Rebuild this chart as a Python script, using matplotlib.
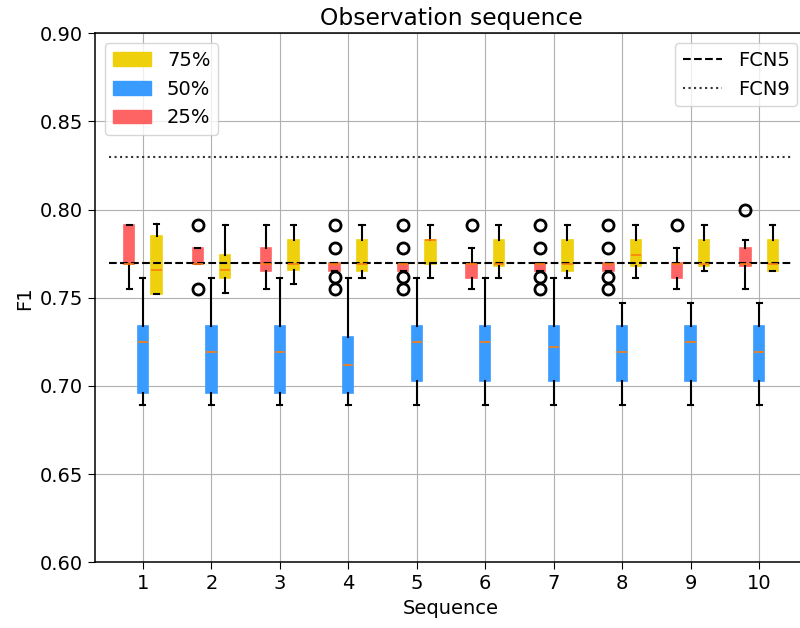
import numpy as np
import matplotlib.pyplot as plt
from matplotlib.patches import Patch
from matplotlib.lines import Line2D

# Secuencias
secuencias = [1, 2, 3, 4, 5, 6, 7, 8, 9, 10]

# Cuartiles (25%, 50%, 75%)
# 25% (rojo)
p25_q1 = [0.769, 0.769, 0.765, 0.765, 0.765, 0.761, 0.765, 0.765, 0.761, 0.768]
p25_med = [0.769, 0.769, 0.769, 0.769, 0.769, 0.769, 0.769, 0.769, 0.769, 0.769]
p25_q3 = [0.791, 0.778, 0.778, 0.770, 0.770, 0.770, 0.770, 0.770, 0.770, 0.778]
p25_lo = [0.755, 0.769, 0.755, 0.765, 0.765, 0.755, 0.765, 0.765, 0.755, 0.755]
p25_hi = [0.791, 0.778, 0.791, 0.770, 0.770, 0.778, 0.770, 0.770, 0.778, 0.783]
p25_fl = [[], [0.791, 0.755], [], [0.791, 0.778, 0.762, 0.755],
          [0.791, 0.778, 0.762, 0.755], [0.791], [0.791, 0.778, 0.762, 0.755],
          [0.791, 0.778, 0.762, 0.755], [0.791], [0.800]]

# 50% (azul)
p50_q1 = [0.696, 0.696, 0.696, 0.696, 0.703, 0.703, 0.703, 0.703, 0.703, 0.703]
p50_med = [0.725, 0.719, 0.719, 0.712, 0.725, 0.725, 0.722, 0.719, 0.725, 0.719]
p50_q3 = [0.734, 0.734, 0.734, 0.728, 0.734, 0.734, 0.734, 0.734, 0.734, 0.734]
p50_lo = [0.689, 0.689, 0.689, 0.689, 0.689, 0.689, 0.689, 0.689, 0.689, 0.689]
p50_hi = [0.761, 0.761, 0.761, 0.761, 0.761, 0.761, 0.761, 0.747, 0.747, 0.747]

# 75% (amarillo)
p75_q1 = [0.752, 0.761, 0.766, 0.765, 0.769, 0.768, 0.765, 0.768, 0.768, 0.765]
p75_med = [0.766, 0.766, 0.769, 0.769, 0.783, 0.769, 0.769, 0.774, 0.769, 0.769]
p75_q3 = [0.785, 0.774, 0.783, 0.783, 0.783, 0.783, 0.783, 0.783, 0.783, 0.783]
p75_lo = [0.752, 0.753, 0.758, 0.761, 0.761, 0.761, 0.761, 0.761, 0.765, 0.765]
p75_hi = [0.792, 0.791, 0.791, 0.791, 0.791, 0.791, 0.791, 0.791, 0.791, 0.791]

# Referencias
fcn5 = 0.77
fcn9 = 0.83

colores = {'25%': '#FF6464', '50%': '#3A9BFF', '75%': '#EFD00C'}


def estadisticas(q1, med, q3, lo, hi, fl=None):
    stats = []
    for i in range(len(q1)):
        stats.append({'q1': q1[i], 'med': med[i], 'q3': q3[i],
                      'whislo': lo[i], 'whishi': hi[i],
                      'fliers': fl[i] if fl else []})
    return stats


def dibujar(ax, stats, pos, color):
    ax.bxp(stats, positions=pos, widths=0.15, patch_artist=True,
           showfliers=True, manage_ticks=False,
           boxprops=dict(facecolor=color, edgecolor=color, linewidth=1.2),
           whiskerprops=dict(color='black', linewidth=1.5),
           capprops=dict(color='black', linewidth=1.5),
           medianprops=dict(color='#FF7F0E', linewidth=1.2),
           flierprops=dict(marker='o', markerfacecolor='none',
                           markeredgecolor='black', markersize=8,
                           markeredgewidth=2))


plt.rcParams['font.size'] = 14
plt.rcParams['axes.linewidth'] = 1.1
plt.rcParams['xtick.major.size'] = 5
plt.rcParams['ytick.major.size'] = 5

fig = plt.figure(figsize=(8, 6.28), dpi=100)
ax = fig.add_axes([0.11875, 0.1046, 0.89, 0.8424])

x = np.array(secuencias)
dibujar(ax, estadisticas(p25_q1, p25_med, p25_q3, p25_lo, p25_hi, p25_fl), x - 0.2, colores['25%'])
dibujar(ax, estadisticas(p50_q1, p50_med, p50_q3, p50_lo, p50_hi), x, colores['50%'])
dibujar(ax, estadisticas(p75_q1, p75_med, p75_q3, p75_lo, p75_hi), x + 0.2, colores['75%'])

ax.plot([x[0] - 0.5, x[-1] + 0.5], [fcn5, fcn5], 'k--', linewidth=1.5)
ax.plot([x[0] - 0.5, x[-1] + 0.5], [fcn9, fcn9], ':', color='#333333', linewidth=1.5)

ax.set_xticks(x)
ax.set_xticklabels([str(s) for s in secuencias])
ax.set_xlim(x[0] - 0.7, x[-1] + 0.7)
ax.set_ylim(0.6, 0.9)
ax.grid(True)
ax.set_axisbelow(True)

ax.set_title('Observation sequence', fontsize=16.8)
ax.set_xlabel('Sequence')
ax.set_ylabel('F1')

leg1 = ax.legend(handles=[Patch(color=colores['75%'], label='75%'),
                          Patch(color=colores['50%'], label='50%'),
                          Patch(color=colores['25%'], label='25%')],
                 loc='upper left')
ax.add_artist(leg1)
ax.legend(handles=[Line2D([], [], color='black', linestyle='--', linewidth=1.5, label='FCN5'),
                   Line2D([], [], color='#333333', linestyle=':', linewidth=1.5, label='FCN9')],
          loc='upper right')

plt.savefig('out.png', dpi=100)
